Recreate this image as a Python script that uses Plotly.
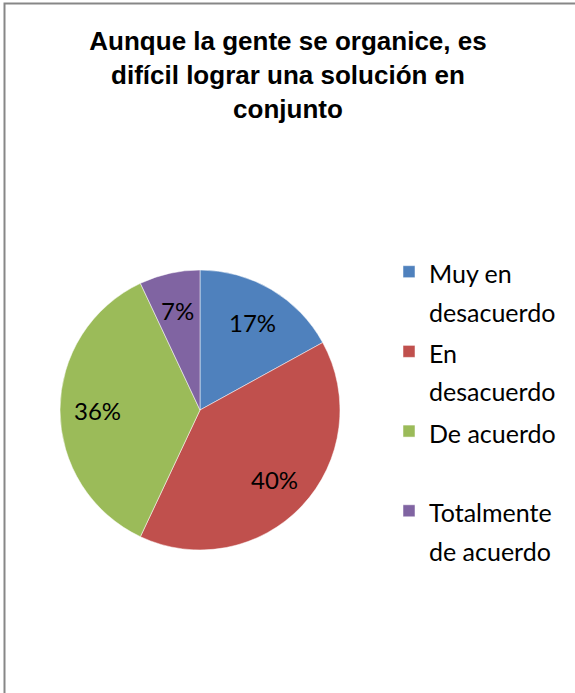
import math
import plotly.graph_objects as go

# Data
categories = ["Muy en<br>desacuerdo", "En<br>desacuerdo", "De acuerdo<br> ", "Totalmente<br>de acuerdo"]
values = [17, 40, 36, 7]
colors = ["#4F81BD", "#C0504D", "#9BBB59", "#8064A2"]
title_text = "Aunque la gente se organice, es<br>difícil lograr una solución en<br>conjunto"

W, H = 575, 693
# pie geometry (pixels)
CX, CY, R = 200, 410, 140
LABEL_FRAC = 0.73

legend_labels = ['<span style="font-size:25px">' + c + '</span>' for c in categories]

fig = go.Figure(
    go.Pie(
        labels=legend_labels,
        values=values,
        sort=False,
        direction="clockwise",
        rotation=0,
        marker=dict(colors=colors, line=dict(color="white", width=0.5)),
        textinfo="none",
        domain=dict(x=[(CX - R) / W, (CX + R) / W], y=[1 - (CY + R) / H, 1 - (CY - R) / H]),
        hoverinfo="label+percent",
    )
)

# percentage labels placed at mid-angle of each slice, computed from the data
total = sum(values)
annotations = []
cum = 0
for v in values:
    mid = (cum + v / 2) / total * 2 * math.pi
    cum += v
    px = CX + LABEL_FRAC * R * math.sin(mid)
    py = CY - LABEL_FRAC * R * math.cos(mid)
    annotations.append(
        dict(
            x=px / W,
            y=1 - py / H,
            xref="paper",
            yref="paper",
            text=f"{round(v / total * 100)}%",
            showarrow=False,
            font=dict(family="Lato", size=24, color="black"),
            xanchor="center",
            yanchor="middle",
        )
    )

fig.update_layout(
    width=W,
    height=H,
    margin=dict(l=0, r=0, t=0, b=0),
    paper_bgcolor="white",
    plot_bgcolor="white",
    title=dict(
        text=title_text,
        x=288 / W,
        xanchor="center",
        y=1 - 50 / H,
        yanchor="top",
        font=dict(family="Liberation Sans, Arial", size=26, color="black", weight="bold"),
    ),
    legend=dict(
        x=389 / W,
        xanchor="left",
        y=1 - 246 / H,
        yanchor="top",
        valign="top",
        font=dict(family="Lato", size=29.5, color="black"),
        bgcolor="rgba(0,0,0,0)",
        traceorder="normal",
    ),
    annotations=annotations,
    shapes=[
        dict(
            type="rect",
            xref="paper",
            yref="paper",
            x0=4.5 / W,
            x1=1.05,
            y0=-0.05,
            y1=1 - 3.5 / H,
            line=dict(color="#878787", width=2),
            fillcolor="rgba(0,0,0,0)",
            layer="above",
        )
    ],
)

fig.write_html(
    "out.html",
    config={"displayModeBar": False},
    post_script="document.body.style.margin='0';",
)
